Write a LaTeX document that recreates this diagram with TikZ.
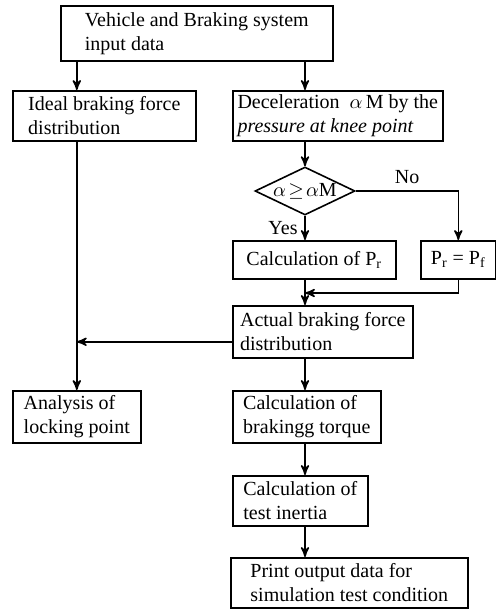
\documentclass[tikz,border=0pt]{standalone}
\usepackage{fontspec}
\setmainfont{Liberation Serif}
\usepackage{tikz}
\usetikzlibrary{arrows,shapes.geometric}

\begin{document}
\begin{tikzpicture}[x=0.5pt,y=-0.5pt,->,>=stealth',thick,
                    block/.style={draw,align=left,anchor=north west,inner sep=2pt},
                    test/.style={draw,diamond,aspect=2.2,inner sep=-1pt,minimum width=50pt,minimum height=24pt}]
\useasboundingbox (0,0) rectangle (496,609);
% Create nodes for the flowchart
\node[block,minimum width=136pt,minimum height=27.5pt] (input) at (60,5) {Vehicle and Braking system\\input data};
\node[block,minimum width=91.5pt,minimum height=25pt] (ideal) at (12,90) {Ideal braking force\\distribution};
\node[block,minimum width=105pt,minimum height=25pt] (decel) at (232,90) {Deceleration \ $\alpha$\,M by the\\\textit{pressure at knee point}};
\node[test] (cond) at (305,191) {$\alpha\!\geq\!\alpha$M};
\node[block,minimum width=81.5pt,minimum height=19pt] (calcpr) at (232,240) {Calculation of P$_\mathrm{r}$};
\node[block,minimum width=37.5pt,minimum height=19pt,inner sep=1pt] (prpf) at (420,240) {P$_\mathrm{r}$ = P$_\mathrm{f}$};
\node[block,minimum width=90pt,minimum height=26pt] (actual) at (232,305) {Actual braking force\\distribution};
\node[block,minimum width=64pt,minimum height=26pt] (analysis) at (12,390) {Analysis of\\locking point};
\node[block,minimum width=74pt,minimum height=26pt] (torque) at (232,390) {Calculation of\\brakingg torque};
\node[block,minimum width=67.5pt,minimum height=25pt] (inertia) at (232,475) {Calculation of\\test inertia};
\node[block,minimum width=118.5pt,minimum height=25pt] (print) at (230,557) {Print output data for\\simulation test condition};
\coordinate (merge) at (305,293);

% Create edges for the flowchart
\draw (input.south -| analysis.north) -- (ideal.north -| analysis.north);
\draw (input.south -| cond.north) -- (decel.north -| cond.north);
\draw (decel.south -| cond.north) -- (cond.north);
\draw (cond.south) -- node[left] {Yes} (calcpr.north -| cond.south);
\draw (cond.east) -| node[above,pos=0.25] {No} (prpf.north);
\draw (prpf.south) |- (merge);
\draw (calcpr.south -| cond.south) -- (actual.north -| cond.south);
\draw (ideal.south -| analysis.north) -- (analysis.north);
\draw ([yshift=-5pt]actual.west) -- ([yshift=-5pt]actual.west -| analysis.north);
\draw (actual.south -| cond.south) -- (torque.north -| cond.south);
\draw (torque.south -| cond.south) -- (inertia.north -| cond.south);
\draw (inertia.south -| cond.south) -- (print.north -| cond.south);
\end{tikzpicture}
\end{document}
